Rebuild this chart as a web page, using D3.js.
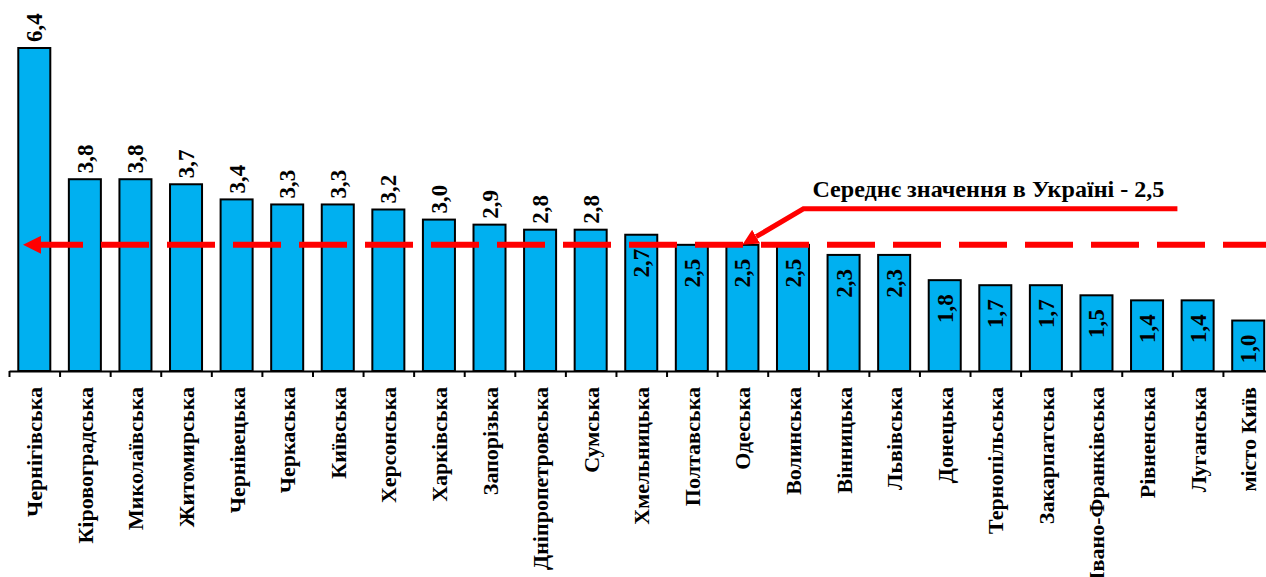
<!DOCTYPE html>
<html>
<head>
<meta charset="utf-8">
<script src="https://cdn.jsdelivr.net/npm/d3@7"></script>
</head>
<body style="margin:0">
<svg id="chart"></svg>
<script>
var width = 1266;
var height = 577;

// regions, sorted as in the picture
var regions = ["Чернігівська", "Кіровоградська", "Миколаївська", "Житомирська", "Чернівецька",
  "Черкаська", "Київська", "Херсонська", "Харківська", "Запорізька", "Дніпропетровська",
  "Сумська", "Хмельницька", "Полтавська", "Одеська", "Волинська", "Вінницька", "Львівська",
  "Донецька", "Тернопільська", "Закарпатська", "Івано-Франківська", "Рівненська",
  "Луганська", "місто Київ"];
var values = [6.4, 3.8, 3.8, 3.7, 3.4, 3.3, 3.3, 3.2, 3.0, 2.9, 2.8, 2.8, 2.7, 2.5, 2.5,
  2.5, 2.3, 2.3, 1.8, 1.7, 1.7, 1.5, 1.4, 1.4, 1.0];
var labelsInside = 12;   // from this index the value sits inside the bar
var average = 2.5;
var averageText = "Середнє значення в Україні - 2,5";
var pointedRegion = "Одеська";

var data = regions.map((r, i) => ({ region: r, value: values[i], i: i }));

var left = 9, step = 50.58;
var baseY = 371, topY = 48;
var serif = "'Liberation Serif', 'Times New Roman', serif";

var svg = d3.select('#chart')
  .attr("width", width)
  .attr("height", height);

var xscale = d3.scaleBand()
  .domain(regions)
  .range([left, left + step * regions.length])
  .paddingInner(0.367)
  .paddingOuter(0.1835);

var yscale = d3.scaleLinear()
  .domain([0, 6.4])
  .range([baseY, topY]);

var fmt = v => d3.format(".1f")(v).replace(".", ",");

// bars
svg.append('g')
  .selectAll('rect')
  .data(data)
  .enter()
  .append('rect')
  .attr("x", d => xscale(d.region))
  .attr("y", d => yscale(d.value))
  .attr("width", xscale.bandwidth())
  .attr("height", d => baseY - yscale(d.value))
  .attr("fill", "#00B0F0")
  .attr("stroke", "#000")
  .attr("stroke-width", 2);

// axis with ticks between categories
var edge = d3.scaleLinear().domain([0, regions.length]).range(xscale.range());
var xAxis = d3.axisBottom(edge)
  .tickValues(d3.range(regions.length + 1))
  .tickFormat("")
  .tickSizeInner(6)
  .tickSizeOuter(0);
var axisG = svg.append('g')
  .attr("transform", `translate(0,${baseY})`)
  .call(xAxis);
axisG.select('.domain').attr("stroke", "#000").attr("stroke-width", 2);
axisG.selectAll('.tick line').attr("stroke", "#000").attr("stroke-width", 2);

// category labels
svg.append('g')
  .selectAll('text')
  .data(data)
  .enter()
  .append('text')
  .attr("transform", d => `translate(${xscale(d.region) + xscale.bandwidth() / 2 + 8},${baseY + 16}) rotate(-90)`)
  .attr("text-anchor", "end")
  .style("font-family", serif)
  .style("font-weight", "bold")
  .style("font-size", "22px")
  .attr("fill", "#000")
  .text(d => d.region);

// value labels
svg.append('g')
  .selectAll('text')
  .data(data)
  .enter()
  .append('text')
  .attr("transform", d => {
    var cx = xscale(d.region) + xscale.bandwidth() / 2 + 8;
    var yy = d.i < labelsInside ? yscale(d.value) - 6 : yscale(d.value) + 14;
    return `translate(${cx},${yy}) rotate(-90)`;
  })
  .attr("text-anchor", d => d.i < labelsInside ? "start" : "end")
  .style("font-family", serif)
  .style("font-weight", "bold")
  .style("font-size", "23px")
  .attr("fill", "#000")
  .text(d => fmt(d.value));

// arrow markers
var defs = svg.append('defs');
defs.append('marker')
  .attr("id", "arrowLeft")
  .attr("viewBox", "0 0 18 18")
  .attr("refX", 0)
  .attr("refY", 9)
  .attr("markerWidth", 18)
  .attr("markerHeight", 18)
  .attr("markerUnits", "userSpaceOnUse")
  .attr("orient", "auto-start-reverse")
  .append('path')
  .attr("d", "M0,0 L18,9 L0,18 Z")
  .attr("fill", "#FF0000");
defs.append('marker')
  .attr("id", "arrowEnd")
  .attr("viewBox", "0 0 16 16")
  .attr("refX", 0)
  .attr("refY", 8)
  .attr("markerWidth", 16)
  .attr("markerHeight", 16)
  .attr("markerUnits", "userSpaceOnUse")
  .attr("orient", "auto")
  .append('path')
  .attr("d", "M0,0 L16,8 L0,16 Z")
  .attr("fill", "#FF0000");

// average line
var avgY = yscale(average);
svg.append('line')
  .attr("x1", left + 32)
  .attr("x2", width + 20)
  .attr("y1", avgY)
  .attr("y2", avgY)
  .attr("stroke", "#FF0000")
  .attr("stroke-width", 6)
  .attr("stroke-dasharray", "48,18")
  .attr("stroke-dashoffset", 6)
  .attr("marker-start", "url(#arrowLeft)");

// annotation pointer
var tipX = xscale(pointedRegion) + xscale.bandwidth() / 2;
var tipY = avgY;
var kneeX = tipX + 61, kneeY = avgY - 36;
var dx = tipX - kneeX, dy = tipY - kneeY, len = Math.sqrt(dx * dx + dy * dy);
var endX = tipX - dx / len * 16, endY = tipY - dy / len * 16;
svg.append('path')
  .attr("d", `M${kneeX + 374},${kneeY} L${kneeX},${kneeY} L${endX},${endY}`)
  .attr("fill", "none")
  .attr("stroke", "#FF0000")
  .attr("stroke-width", 5)
  .attr("stroke-linejoin", "miter")
  .attr("marker-end", "url(#arrowEnd)");

svg.append('text')
  .attr("x", kneeX + 9)
  .attr("y", kneeY - 12)
  .style("font-family", serif)
  .style("font-weight", "bold")
  .style("font-size", "24px")
  .attr("textLength", 352)
  .attr("lengthAdjust", "spacingAndGlyphs")
  .attr("fill", "#000")
  .text(averageText);
</script>
</body>
</html>
